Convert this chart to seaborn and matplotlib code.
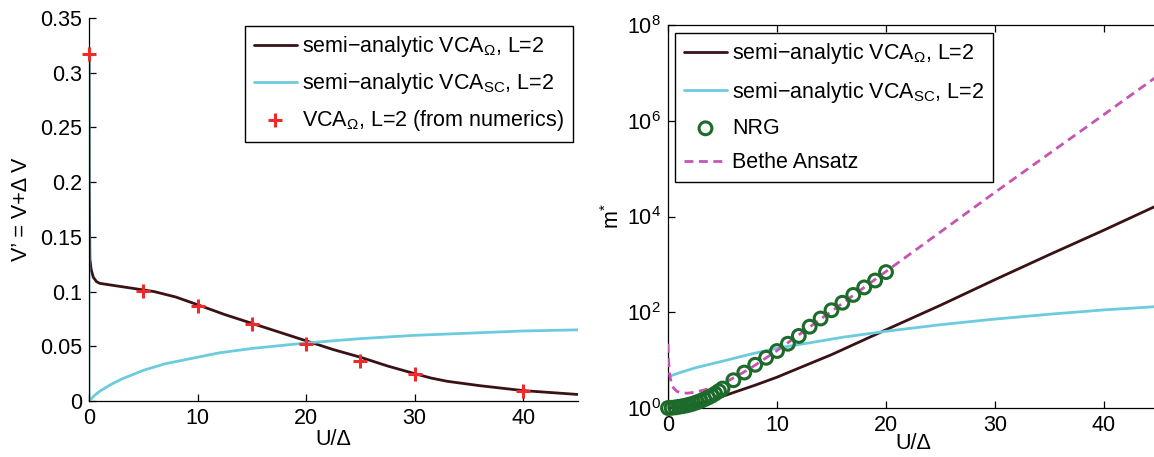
import matplotlib
matplotlib.use("Agg")
import matplotlib.pyplot as plt
from matplotlib.ticker import FixedLocator, NullLocator, FuncFormatter
import seaborn as sns

# ---- left panel: renormalised hybridisation V' = V + dV versus U/Delta ----
u_omega = [0, 0.02, 0.08, 0.2, 0.4, 0.7, 1.0, 2, 4, 6, 8, 10, 12.5, 15, 17.5,
           20, 22.5, 25, 27.5, 30, 31.5, 33, 36, 40, 45]
v_omega = [0.32, 0.2, 0.13, 0.12, 0.113, 0.109, 0.1075, 0.106, 0.103, 0.1,
           0.095, 0.088, 0.079, 0.071, 0.063, 0.055, 0.047, 0.04, 0.032,
           0.025, 0.021, 0.018, 0.014, 0.0095, 0.006]

u_sc = [0, 0, 0.5, 1, 2, 3, 5, 7, 10, 12, 15, 20, 25, 30, 35, 40, 45]
v_sc = [0.315, 0.0, 0.005, 0.009, 0.015, 0.02, 0.028, 0.034, 0.040, 0.044,
        0.048, 0.053, 0.057, 0.060, 0.062, 0.064, 0.065]

u_num = [0, 5, 10, 15, 20, 25, 30, 40]
v_num = [0.317, 0.1005, 0.087, 0.070, 0.0517, 0.0362, 0.0246, 0.0091]

# ---- right panel: effective mass m* versus U/Delta ----
u_m_omega = [0, 2, 4, 6, 8, 10, 12, 15, 20, 25, 30, 35, 40, 45]
m_omega = [1.0, 1.1, 1.45, 2.1, 3.0, 4.4, 6.8, 13, 43, 140, 480, 1600,
           5200, 17500]

u_m_sc = [0, 0, 1, 2.5, 5, 7.5, 10, 13, 16, 20, 25, 30, 35, 40, 45]
m_sc = [1.0, 4.5, 5.4, 6.9, 9.5, 13.2, 17.8, 23, 30, 40, 55, 72, 91, 112, 132]

u_nrg = [0, 0.33, 0.67, 1, 1.33, 1.67, 2, 2.33, 2.67, 3, 3.33, 3.67, 4, 4.33,
         4.67, 5, 6, 7, 8, 9, 10, 11, 12, 13, 14, 15, 16, 17, 18, 19, 20]
m_nrg = [1.0, 1.01, 1.03, 1.06, 1.09, 1.13, 1.18, 1.24, 1.32, 1.41, 1.52,
         1.65, 1.8, 2.0, 2.25, 2.55, 3.8, 5.5, 8.0, 11.2, 15.5, 22, 32, 50,
         74, 110, 158, 230, 330, 460, 690]

u_bethe = [0, 0.05, 0.15, 0.3, 0.5, 0.8, 1.2, 1.8, 2.5, 3.5, 5, 7.5, 10, 15,
           20, 30, 40, 45]
m_bethe = [22, 10, 5.0, 3.3, 2.63, 2.24, 2.07, 2.04, 2.14, 2.45, 3.16, 6.6,
           15.8, 105, 710, 3.2e4, 1.35e6, 8.9e6]

lbl_omega = "semi\u2212analytic VCA$_{\\Omega}$, L=2"
lbl_sc = "semi\u2212analytic VCA$_{\\mathrm{SC}}$, L=2"
lbl_num = "VCA$_{\\Omega}$, L=2 (from numerics)"
lbl_nrg = "NRG"
lbl_bethe = "Bethe Ansatz"

c_dark = "#3a1216"
c_cyan = "#6ccbdc"
c_red = "#ee2a2a"
c_green = "#1d6b2a"
c_magenta = "#c554b2"

sns.set_theme(style="white")
plt.rcParams["font.family"] = ["Liberation Sans", "DejaVu Sans"]
plt.rcParams.update({
    "font.size": 15.5,
    "mathtext.fontset": "custom",
    "mathtext.rm": "Liberation Sans",
    "mathtext.it": "Liberation Sans:italic",
    "mathtext.bf": "Liberation Sans:bold",
    "axes.edgecolor": "black",
    "axes.labelcolor": "black",
    "text.color": "black",
    "xtick.color": "black",
    "ytick.color": "black",
    "axes.linewidth": 0.9,
    "axes.labelsize": 15.5,
    "xtick.labelsize": 15.5,
    "ytick.labelsize": 15.5,
    "legend.fontsize": 15.5,
})

W, H = 1154, 457
fig = plt.figure(figsize=(W / 100, H / 100), dpi=100)


def frac(x0, y_top, x1, y_bot):
    return [x0 / W, (H - y_bot) / H, (x1 - x0) / W, (y_bot - y_top) / H]


ax1 = fig.add_axes(frac(89, 18, 577.5, 401))
ax2 = fig.add_axes(frac(668, 25, 1158.5, 408))

# left panel
sns.lineplot(x=u_omega, y=v_omega, ax=ax1, color=c_dark, lw=2.0,
             sort=False, estimator=None, label=lbl_omega)
sns.lineplot(x=u_sc, y=v_sc, ax=ax1, color=c_cyan, lw=2.0,
             sort=False, estimator=None, label=lbl_sc)
sns.scatterplot(x=u_num, y=v_num, ax=ax1, marker="+", s=110, color=c_red,
                linewidth=2.2, label=lbl_num, clip_on=False, zorder=5)

ax1.set_xlim(0, 45)
ax1.set_ylim(0, 0.35)
ax1.xaxis.set_major_locator(FixedLocator([0, 10, 20, 30, 40]))
ax1.yaxis.set_major_locator(FixedLocator([0, 0.05, 0.1, 0.15, 0.2, 0.25, 0.3, 0.35]))
ax1.yaxis.set_major_formatter(FuncFormatter(lambda v, p: f"{v:g}"))
ax1.spines["top"].set_visible(False)
ax1.spines["right"].set_visible(False)
ax1.tick_params(direction="in", length=5, width=0.9, left=True, bottom=True,
                top=False, right=False, pad=5)
ax1.set_xlabel("U/\u0394", labelpad=0)
ax1.set_ylabel("V\u2019 = V+\u0394 V", labelpad=6)

h, l = ax1.get_legend_handles_labels()
order = [l.index(lbl_omega), l.index(lbl_sc), l.index(lbl_num)]
leg1 = ax1.legend([h[i] for i in order], [l[i] for i in order],
                  loc="upper right", bbox_to_anchor=(0.99, 0.98),
                  frameon=True, fancybox=False, framealpha=1,
                  edgecolor="black", borderaxespad=0, handlelength=2.0,
                  handletextpad=0.25, labelspacing=0.55, borderpad=0.4,
                  scatterpoints=1)
leg1.get_frame().set_linewidth(1.0)

# right panel
sns.lineplot(x=u_m_omega, y=m_omega, ax=ax2, color=c_dark, lw=2.0,
             sort=False, estimator=None, label=lbl_omega)
sns.lineplot(x=u_m_sc, y=m_sc, ax=ax2, color=c_cyan, lw=2.0,
             sort=False, estimator=None, label=lbl_sc)
sns.lineplot(x=u_bethe, y=m_bethe, ax=ax2, color=c_magenta, lw=2.0,
             sort=False, estimator=None, label=lbl_bethe,
             dashes=False, linestyle=(0, (3.2, 2.0)), zorder=3)
sns.scatterplot(x=u_nrg, y=m_nrg, ax=ax2, marker="o", s=85,
                facecolors="none", edgecolors=c_green, linewidth=2.2,
                label=lbl_nrg, clip_on=False, zorder=4)

ax2.set_yscale("log")
ax2.set_xlim(0, 45)
ax2.set_ylim(1, 1e8)
ax2.xaxis.set_major_locator(FixedLocator([0, 10, 20, 30, 40]))
ax2.yaxis.set_major_locator(FixedLocator([1, 1e2, 1e4, 1e6, 1e8]))
ax2.yaxis.set_minor_locator(NullLocator())
ax2.spines["right"].set_visible(False)
ax2.tick_params(direction="in", length=5, width=0.9, left=True, bottom=True,
                top=True, right=False, pad=5)
ax2.set_xlabel("U/\u0394", labelpad=-2)
ax2.set_ylabel("m$^{*}$", labelpad=2)

h, l = ax2.get_legend_handles_labels()
order = [l.index(lbl_omega), l.index(lbl_sc), l.index(lbl_nrg), l.index(lbl_bethe)]
leg2 = ax2.legend([h[i] for i in order], [l[i] for i in order],
                  loc="upper left", bbox_to_anchor=(0.015, 0.98),
                  frameon=True, fancybox=False, framealpha=1,
                  edgecolor="black", borderaxespad=0, handlelength=2.0,
                  handletextpad=0.25, labelspacing=0.62, borderpad=0.4,
                  scatterpoints=1)
leg2.get_frame().set_linewidth(1.0)

fig.savefig("out.png", dpi=100)
